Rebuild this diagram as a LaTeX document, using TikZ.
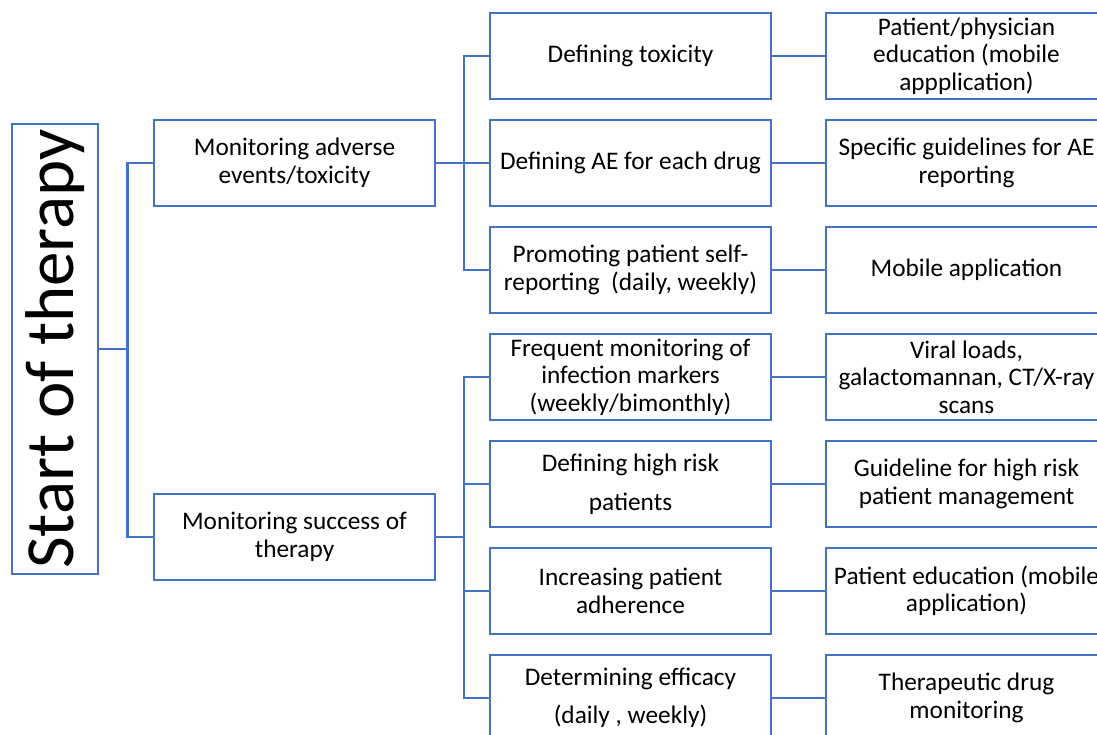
\documentclass[tikz,border=0pt]{standalone}
\usepackage{fontspec}
\setmainfont{Carlito}
\definecolor{ob}{RGB}{68,114,196}
\begin{document}
\begin{tikzpicture}[x=1pt,y=1pt,
 box/.style={draw=ob,line width=2.8pt,minimum width=281pt,minimum height=86pt,inner sep=0pt,align=center,font=\fontsize{25.3}{27.5}\selectfont},
 conn/.style={draw=ob,line width=2.8pt}]
\useasboundingbox (0,0) rectangle (1097,-735);
\clip (0,0) rectangle (1097,-735);
% root
\node[draw=ob,line width=2.8pt,minimum width=86pt,minimum height=450pt,inner sep=0pt] (s) at (55,-349) {};
\node[rotate=90,anchor=base,font=\fontsize{69}{75}\selectfont] (st) at (73,-349) {Start of therapy};
% level 1
\node[box] (a) at (294.5,-163) {Monitoring adverse\\events/toxicity};
\node[box] (b) at (294.5,-537) {Monitoring success of\\therapy};
% level 2
\node[box] (a1) at (630.5,-56) {Defining toxicity};
\node[box] (a2) at (630.5,-163) {Defining AE for each drug};
\node[box] (a3) at (630.5,-270) {Promoting patient self-\\reporting\ \ (daily, weekly)};
\node[box] (b1) at (630.5,-377) {Frequent monitoring of\\infection markers\\(weekly/bimonthly)};
\node[box] (b2) at (630.5,-484) {Defining high risk\\[11.5pt]patients};
\node[box] (b3) at (630.5,-591) {Increasing patient\\adherence};
\node[box] (b4) at (630.5,-698) {Determining efficacy\\[11pt](daily , weekly)};
% level 3
\node[box] (c1) at (966.5,-56) {Patient/physician\\education (mobile\\appplication)};
\node[box] (c2) at (966.5,-163) {Specific guidelines for AE\\reporting};
\node[box] (c3) at (966.5,-270) {Mobile application};
\node[box] (d1) at (966.5,-377) {Viral loads,\\galactomannan, CT/X-ray\\scans};
\node[box] (d2) at (966.5,-484) {Guideline for high risk\\patient management};
\node[box] (d3) at (966.5,-591) {Patient education (mobile\\application)};
\node[box] (d4) at (966.5,-698) {Therapeutic drug\\monitoring};
% connectors
\draw[conn] (s.east) -- ++(28,0) |- (a.west);
\draw[conn] (s.east) -- ++(28,0) |- (b.west);
\foreach \t in {a1,a2,a3} \draw[conn] (a.east) -- ++(27.5,0) |- (\t.west);
\foreach \t in {b1,b2,b3,b4} \draw[conn] (b.east) -- ++(27.5,0) |- (\t.west);
\draw[conn] (a1) -- (c1);
\draw[conn] (a2) -- (c2);
\draw[conn] (a3) -- (c3);
\draw[conn] (b1) -- (d1);
\draw[conn] (b2) -- (d2);
\draw[conn] (b3) -- (d3);
\draw[conn] (b4) -- (d4);
\end{tikzpicture}
\end{document}
